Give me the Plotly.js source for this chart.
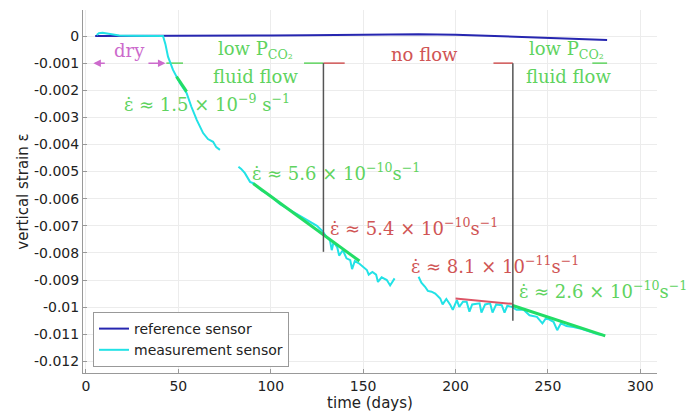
<!DOCTYPE html>
<html>
<head>
<meta charset="utf-8">
<script src="https://cdn.plot.ly/plotly-3.0.1.min.js"></script>
<style>html,body{margin:0;padding:0;background:#fff;}#chart{width:699px;height:416px;}</style>
</head>
<body>
<div id="chart"></div>
<script>
// ---- data ----
const refDays   = [5, 20, 40, 60, 80, 100, 120, 140, 160, 170, 180, 200, 220, 240, 260, 282];
const refStrain = [0, 0, 0, 0.00001, 0.00002, 0.00002, 0.00003, 0.00005, 0.00007, 0.00008, 0.00007, 0.00005, 0.0, -0.00006, -0.00011, -0.00015];

const measDays = [5.8, 7, 9, 11, 14, 18, 25, 32, 38, 41.7, 43, 44.4, 47.1, 49, 50.9, 54.5, 57, 60, 63.4, 66, 68.8, 70.5, 72.5,
  77,
  82.5, 84, 86, 88.8, 90.5, 95, 100, 105, 110, 115, 120, 125, 128, 130, 132, 133, 134, 136, 137, 139, 141, 143, 144, 145.5, 148, 150, 152, 153, 155, 157, 158, 160, 162.8, 164.6, 167,
  173,
  180, 181.5, 183.5, 185, 187, 189, 191.7, 193, 195, 197, 198.5, 200.7, 202, 204, 206, 207.5, 209, 213, 214, 216, 218.7, 220, 222, 225, 226.5, 228, 230.4, 233, 236.8, 240, 244, 247, 249, 253, 255, 257, 260, 263.8, 268, 273, 277, 280];
const measStrain = [0.00004, 0.0001, 0.00012, 0.0001, 0.00005, 0.00002, 0.00001, 0, 0, 0, -0.0003, -0.00076, -0.00125, -0.0015, -0.00174, -0.00211, -0.0026, -0.0031, -0.00358, -0.0038, -0.0039, -0.0041, -0.0042,
  null,
  -0.00482, -0.0049, -0.00506, -0.00538, -0.00543, -0.0057, -0.0059, -0.0062, -0.0064, -0.0066, -0.0068, -0.0070, -0.0072, -0.0074, -0.00753, -0.0079, -0.0076, -0.0078, -0.0081, -0.0079, -0.0082, -0.00827, -0.0086, -0.0083, -0.0084, -0.0085, -0.00863, -0.0088, -0.0087, -0.0088, -0.00907, -0.0089, -0.009, -0.0092, -0.00894,
  null,
  -0.00888, -0.0091, -0.00925, -0.0094, -0.00943, -0.0095, -0.00968, -0.0099, -0.0097, -0.0099, -0.0101, -0.00974, -0.00999, -0.0098, -0.0098, -0.01017, -0.0099, -0.00986, -0.0102, -0.0099, -0.00986, -0.0102, -0.0099, -0.00993, -0.0102, -0.00995, -0.00999, -0.0101, -0.0101, -0.0103, -0.01036, -0.0106, -0.0104, -0.01054, -0.01085, -0.0106, -0.0107, -0.01073, -0.0108, -0.01091, -0.0110, -0.01103];

// linear fits (start/end)
const fit1Days = [49, 54.5],    fit1Strain = [-0.0015, -0.00205];
const fit2Days = [90.5, 148],   fit2Strain = [-0.00544, -0.0083];
const fit3Days = [200, 230.5],  fit3Strain = [-0.00968, -0.00988];
const fit4Days = [230.5, 281],  fit4Strain = [-0.00993, -0.01106];

// phase boundaries (vertical markers)
const markerDays   = [128.5, 231];
const markerTop    = [-0.001, -0.001];
const markerBottom = [-0.00796, -0.0105];

// phase arrow segments at strain -0.001
const phaseLevel = -0.001;
const greenSegStart = [43.5, 118, 274];
const greenSegEnd   = [52.5, 128.5, 282];
const redSegStart   = [128.5, 220.5];
const redSegEnd     = [140, 231];
const dryArrowTip   = [4, 43];
const dryArrowTail  = [11, 33];

// axis ticks
const xTicks = [0, 50, 100, 150, 200, 250, 300];
const yTicks = [0, -0.001, -0.002, -0.003, -0.004, -0.005, -0.006, -0.007, -0.008, -0.009, -0.01, -0.011, -0.012];
const yTickText = ['0', '-0.001', '-0.002', '-0.003', '-0.004', '-0.005', '-0.006', '-0.007', '-0.008', '-0.009', '-0.01', '-0.011', '-0.012'];

// ---- styles ----
const GREEN_TXT = '#5fd35f', RED_TXT = '#d05555', MAG = '#cc6acc';
const FIT_GREEN = '#22dd66', FIT_RED = '#dd5566';
const SERIF = 'DejaVu Serif, serif';

const traces = [];
function seg(x, y, color, width) {
  traces.push({x: x, y: y, mode: 'lines', line: {color: color, width: width}, showlegend: false, hoverinfo: 'skip'});
}
for (let i = 0; i < greenSegStart.length; i++) seg([greenSegStart[i], greenSegEnd[i]], [phaseLevel, phaseLevel], GREEN_TXT, 1.5);
for (let i = 0; i < redSegStart.length; i++) seg([redSegStart[i], redSegEnd[i]], [phaseLevel, phaseLevel], RED_TXT, 1.5);

traces.push({x: refDays, y: refStrain, mode: 'lines', name: 'reference sensor', line: {color: '#2626b0', width: 2}});
traces.push({x: measDays, y: measStrain, mode: 'lines', name: 'measurement sensor', connectgaps: false, line: {color: '#22e2e6', width: 2}});

seg(fit1Days, fit1Strain, FIT_GREEN, 3);
seg(fit2Days, fit2Strain, FIT_GREEN, 3);
seg(fit3Days, fit3Strain, FIT_RED, 2);
seg(fit4Days, fit4Strain, FIT_GREEN, 3);

for (let i = 0; i < markerDays.length; i++) seg([markerDays[i], markerDays[i]], [markerTop[i], markerBottom[i]], '#555555', 1.5);

const ann = [];
function txt(x, y, t, color, anchor) {
  ann.push({x: x, y: y, xref: 'x', yref: 'y', text: t, showarrow: false, xanchor: anchor || 'center', yanchor: 'middle',
            font: {family: SERIF, size: 18, color: color}});
}
txt(23.8, -0.00052, 'dry', MAG);
txt(91.5, -0.00052, 'low P<sub>CO₂</sub>', GREEN_TXT);
txt(91.5, -0.00148, 'fluid flow', GREEN_TXT);
txt(183, -0.00068, 'no flow', RED_TXT);
txt(260, -0.00052, 'low P<sub>CO₂</sub>', GREEN_TXT);
txt(261, -0.00148, 'fluid flow', GREEN_TXT);
txt(65.7, -0.00247, 'ε̇ ≈ 1.5 × 10<sup>−9</sup> s<sup>−1</sup>', GREEN_TXT);
txt(88.5, -0.00503, 'ε̇ ≈ 5.6 × 10<sup>−10</sup>s<sup>−1</sup>', GREEN_TXT, 'left');
txt(131, -0.00704, 'ε̇ ≈ 5.4 × 10<sup>−10</sup>s<sup>−1</sup>', RED_TXT, 'left');
txt(175, -0.00845, 'ε̇ ≈ 8.1 × 10<sup>−11</sup>s<sup>−1</sup>', RED_TXT, 'left');
txt(233.2, -0.00937, 'ε̇ ≈ 2.6 × 10<sup>−10</sup>s<sup>−1</sup>', GREEN_TXT, 'left');
for (let i = 0; i < dryArrowTip.length; i++) {
  ann.push({x: dryArrowTip[i], y: phaseLevel, ax: dryArrowTail[i], ay: phaseLevel, xref: 'x', yref: 'y', axref: 'x', ayref: 'y',
            text: '', showarrow: true, arrowhead: 2, arrowsize: 1, arrowwidth: 1.5, arrowcolor: MAG});
}

const axisFont = {family: 'DejaVu Sans, sans-serif', size: 14, color: '#222'};
const layout = {
  width: 699, height: 416,
  margin: {l: 83, r: 42, t: 10, b: 43},
  paper_bgcolor: '#fff', plot_bgcolor: '#fff',
  showlegend: true,
  legend: {x: 0.0174, y: 0.0165, xanchor: 'left', yanchor: 'bottom', bgcolor: '#fff', bordercolor: '#999', borderwidth: 1,
           font: {family: 'DejaVu Sans, sans-serif', size: 14, color: '#222'}, itemwidth: 30, tracegroupgap: 0},
  xaxis: {range: [-1.6, 309], tickvals: xTicks, ticktext: xTicks.map(String), showgrid: true, gridcolor: '#ececec',
          zeroline: false, showline: true, linecolor: '#999', ticks: 'inside', ticklen: 4, tickcolor: '#999',
          tickfont: axisFont, title: {text: 'time (days)', font: {family: 'DejaVu Sans, sans-serif', size: 15, color: '#222'}, standoff: 4}},
  yaxis: {range: [-0.01243, 0.00096], tickvals: yTicks, ticktext: yTickText, showgrid: true, gridcolor: '#ececec',
          zeroline: false, showline: true, linecolor: '#999', ticks: 'inside', ticklen: 4, tickcolor: '#999',
          tickfont: axisFont, title: {text: 'vertical strain ε', font: {family: 'DejaVu Sans, sans-serif', size: 15, color: '#222'}}},
  annotations: ann
};
Plotly.newPlot('chart', traces, layout, {staticPlot: true, displayModeBar: false});
</script>
</body>
</html>
